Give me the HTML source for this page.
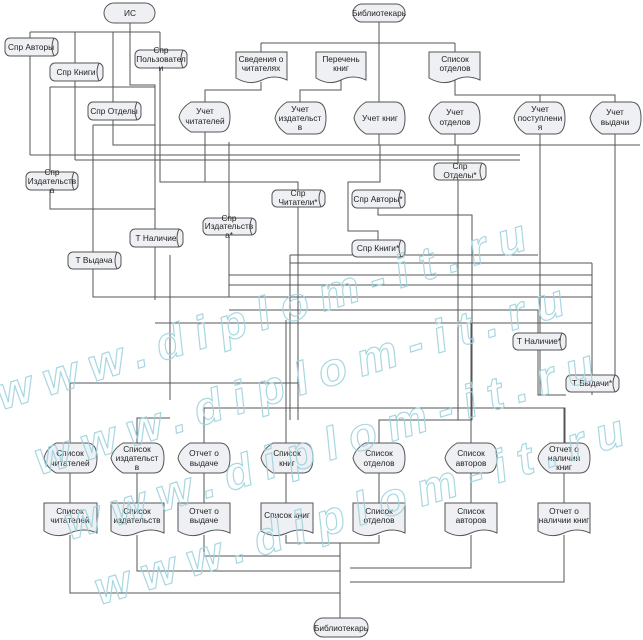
<!DOCTYPE html>
<html><head><meta charset="utf-8"><style>
html,body{margin:0;padding:0;background:#fff;}
svg{display:block;}
text{font-family:"Liberation Sans","DejaVu Sans",sans-serif;font-size:8.3px;fill:#222;text-anchor:middle;}
.wm{font-family:"Liberation Sans",sans-serif;font-size:46px;font-weight:bold;font-style:italic;fill:none;stroke:#9fd3df;stroke-width:1.2;text-anchor:start;letter-spacing:12px;}
</style></head><body>
<svg width="643" height="640" viewBox="0 0 643 640" xmlns="http://www.w3.org/2000/svg">
<rect width="643" height="640" fill="#fff"/>
<g stroke="#555" stroke-width="1" fill="none">
<path d="M130 23V85H155V300M30 32H160M30 32V155M75 32V160M113 32V102M160 32V50M160 68V182H298V190"/>
<path d="M50 87H155M50 87V172M50 190V209H155M113 120V145H640M93 125H155M93 125V252M93 269V297H290"/>
<path d="M30 155H520M75 160H520M205 132V182M229 142V297M170 255V400"/>
<path d="M379 22V145M261 43H455M261 43V52M455 43V52M341 80V90H300V102M261 82V90H205V102M455 80V95H615V102M540 95V102"/>
<path d="M540 134V395M615 134V383H598M230 145H455V134M458 145V420M380 145V182H348V231H378V240M378 208V215H472V420"/>
<path d="M298 207V420M229 218V297M155 297H290"/>
<path d="M290 255H538M290 263H592M229 275H592M229 285H592M155 297H592M229 310H538V333M155 323H592M290 255V420"/>
<path d="M538 350V395H566M592 263V395"/>
<path d="M70 443V383H298M137 443V418H170M204 443V408H565V443M286 443V320M379 443V420H472M471 443V320M564 408V443"/>
<path d="M70 473V503M137 473V503M204 473V503M286 473V503M379 473V503M471 473V503M564 473V503"/>
<path d="M70 535V593H340M137 535V571H340M204 535V556H340M286 535V543H379V535M340 543V618M471 535V568H350M564 535V582H350"/>
</g>
<g fill="#eef0f3" stroke="#555" stroke-width="1">
<rect x="104" y="3" width="51" height="20" rx="10"/>
<rect x="353" y="4" width="52" height="18" rx="9"/>
<rect x="314" y="618" width="54" height="19" rx="9"/>
<rect x="5" y="38" width="53" height="18" rx="5"/>
<rect x="50" y="63" width="53" height="18" rx="5"/>
<rect x="135" y="50" width="52" height="18" rx="5"/>
<rect x="88" y="102" width="53" height="18" rx="5"/>
<rect x="26" y="172" width="52" height="18" rx="5"/>
<rect x="272" y="190" width="53" height="17" rx="5"/>
<rect x="203" y="218" width="53" height="17" rx="5"/>
<rect x="352" y="190" width="53" height="18" rx="5"/>
<rect x="352" y="240" width="53" height="17" rx="5"/>
<rect x="434" y="163" width="52" height="17" rx="5"/>
<rect x="130" y="229" width="53" height="18" rx="5"/>
<rect x="68" y="252" width="53" height="17" rx="5"/>
<rect x="513" y="333" width="53" height="17" rx="5"/>
<rect x="566" y="375" width="53" height="17" rx="5"/>
<path d="M236 52H287V80Q274 74 262 80T236 78Z"/>
<path d="M316 52H366V80Q353 74 341 80T316 78Z"/>
<path d="M429 52H480V80Q467 74 455 80T429 78Z"/>
<path d="M44 503H97V533Q84 527 70 533T44 531Z"/>
<path d="M111 503H164V533Q151 527 137 533T111 531Z"/>
<path d="M178 503H230V533Q217 527 204 533T178 531Z"/>
<path d="M261 503H313V533Q300 527 287 533T261 531Z"/>
<path d="M353 503H405V533Q392 527 379 533T353 531Z"/>
<path d="M445 503H497V533Q484 527 471 533T445 531Z"/>
<path d="M538 503H590V533Q577 527 564 533T538 531Z"/>
<path d="M191 102H220Q230 102 230 117Q230 132 220 132H191Q181 126 179 117Q181 108 191 102Z"/>
<path d="M287 102H316Q326 102 326 118Q326 134 316 134H287Q277 128 275 118Q277 108 287 102Z"/>
<path d="M366 102H395Q405 102 405 118Q405 134 395 134H366Q356 128 354 118Q356 108 366 102Z"/>
<path d="M441 102H470Q480 102 480 118Q480 134 470 134H441Q431 128 429 118Q431 108 441 102Z"/>
<path d="M526 102H555Q565 102 565 118Q565 134 555 134H526Q516 128 514 118Q516 108 526 102Z"/>
<path d="M602 102H631Q641 102 641 118Q641 134 631 134H602Q592 128 590 118Q592 108 602 102Z"/>
<path d="M56 443H87Q97 443 97 458Q97 473 87 473H56Q46 467 44 458Q46 449 56 443Z"/>
<path d="M123 443H154Q164 443 164 458Q164 473 154 473H123Q113 467 111 458Q113 449 123 443Z"/>
<path d="M190 443H220Q230 443 230 458Q230 473 220 473H190Q180 467 178 458Q180 449 190 443Z"/>
<path d="M273 443H303Q313 443 313 458Q313 473 303 473H273Q263 467 261 458Q263 449 273 443Z"/>
<path d="M365 443H395Q405 443 405 458Q405 473 395 473H365Q355 467 353 458Q355 449 365 443Z"/>
<path d="M457 443H487Q497 443 497 458Q497 473 487 473H457Q447 467 445 458Q447 449 457 443Z"/>
<path d="M550 443H580Q590 443 590 458Q590 473 580 473H550Q540 467 538 458Q540 449 550 443Z"/>
</g>
<g fill="none" stroke="#555">
<path d="M54 38Q50 47 54 56M99 63Q95 72 99 81M183 50Q179 59 183 68M137 102Q133 111 137 120M74 172Q70 181 74 190M321 190Q317 198 321 207M252 218Q248 226 252 235M401 190Q397 199 401 208M401 240Q397 248 401 257M482 163Q478 171 482 180M179 229Q175 238 179 247M117 252Q113 260 117 269M562 333Q558 341 562 350M615 375Q611 383 615 392"/>
</g>
<g>
<text x="130" y="16">ИС</text>
<text x="379" y="16">Библиотекарь</text>
<text x="341" y="631">Библиотекарь</text>
<text x="31" y="50">Спр Авторы</text>
<text x="76" y="75">Спр Книги</text>
<text x="161" y="53">Спр</text><text x="161" y="62">Пользовател</text><text x="161" y="71">и</text>
<text x="114" y="114">Спр Отделы</text>
<text x="52" y="175">Спр</text><text x="52" y="184">Издательств</text><text x="52" y="193">а</text>
<text x="298" y="196">Спр</text><text x="298" y="205">Читатели*</text>
<text x="229" y="221">Спр</text><text x="229" y="229">Издательств</text><text x="229" y="238">а*</text>
<text x="378" y="202">Спр Авторы*</text>
<text x="378" y="251">Спр Книги*</text>
<text x="460" y="169">Спр</text><text x="460" y="178">Отделы*</text>
<text x="156" y="241">Т Наличие</text>
<text x="94" y="263">Т Выдача</text>
<text x="539" y="344">Т Наличие*</text>
<text x="592" y="386">Т Выдачи*</text>
<text x="261" y="62">Сведения о</text><text x="261" y="71">читателях</text>
<text x="341" y="62">Перечень</text><text x="341" y="71">книг</text>
<text x="455" y="62">Список</text><text x="455" y="71">отделов</text>
<text x="205" y="114">Учет</text><text x="205" y="124">читателей</text>
<text x="300" y="112">Учет</text><text x="300" y="121">издательст</text><text x="300" y="130">в</text>
<text x="380" y="121">Учет книг</text>
<text x="455" y="115">Учет</text><text x="455" y="125">отделов</text>
<text x="540" y="112">Учет</text><text x="540" y="121">поступлени</text><text x="540" y="130">я</text>
<text x="615" y="115">Учет</text><text x="615" y="125">выдачи</text>
<text x="70" y="456">Список</text><text x="70" y="466">читателей</text>
<text x="137" y="452">Список</text><text x="137" y="461">издательст</text><text x="137" y="470">в</text>
<text x="204" y="456">Отчет о</text><text x="204" y="466">выдаче</text>
<text x="287" y="456">Список</text><text x="287" y="466">книг</text>
<text x="379" y="456">Список</text><text x="379" y="466">отделов</text>
<text x="471" y="456">Список</text><text x="471" y="466">авторов</text>
<text x="564" y="452">Отчет о</text><text x="564" y="461">наличии</text><text x="564" y="470">книг</text>
<text x="70" y="514">Список</text><text x="70" y="523">читателей</text>
<text x="137" y="514">Список</text><text x="137" y="523">издательств</text>
<text x="204" y="514">Отчет о</text><text x="204" y="523">выдаче</text>
<text x="287" y="518">Список книг</text>
<text x="379" y="514">Список</text><text x="379" y="523">отделов</text>
<text x="471" y="514">Список</text><text x="471" y="523">авторов</text>
<text x="564" y="514">Отчет о</text><text x="564" y="523">наличии книг</text>
</g>
<g opacity="0.9">
<text class="wm" transform="translate(2,410) rotate(-17)">www.diplom-it.ru</text>
<text class="wm" transform="translate(40,475) rotate(-17)">www.diplom-it.ru</text>
<text class="wm" transform="translate(70,540) rotate(-17)">www.diplom-it.ru</text>
<text class="wm" transform="translate(100,605) rotate(-17)">www.diplom-it.ru</text>
</g>
</svg>
</body></html>
